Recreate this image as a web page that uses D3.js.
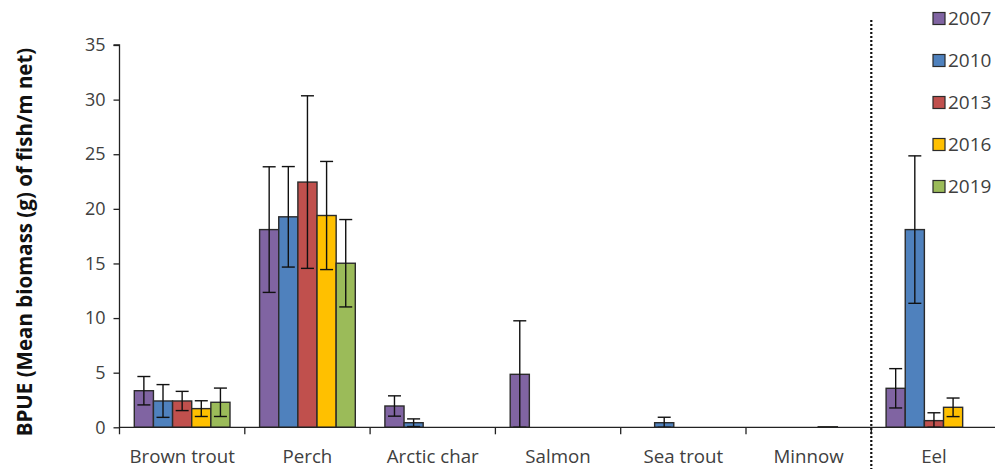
<!DOCTYPE html>
<html>
<head>
<meta charset="utf-8">
<script src="https://cdn.jsdelivr.net/npm/d3@7"></script>
<style>
  html, body { margin: 0; padding: 0; background: #fff; }
  svg { display: block; font-family: "Open Sans", "Liberation Sans", sans-serif; }
</style>
</head>
<body>
<svg id="chart" width="995" height="469"></svg>
<script>
// Species (x categories) and survey years (series)
const categories = ["Brown trout", "Perch", "Arctic char", "Salmon", "Sea trout", "Minnow", "Eel"];
const years = ["2007", "2010", "2013", "2016", "2019"];

// Mean BPUE per species, one array per survey year (null = no catch)
const bpue2007 = [3.35, 18.1, 1.95, 4.85, null, null, 3.57];
const bpue2010 = [2.41, 19.27, 0.42, null, 0.42, null, 18.1];
const bpue2013 = [2.41, 22.45, null, null, null, null, 0.61];
const bpue2016 = [1.71, 19.39, null, null, null, 0.05, 1.83];
const bpue2019 = [2.29, 15.02, null, null, null, null, null];

// Error bar half-widths (standard error)
const err2007 = [1.3, 5.75, 0.93, 4.9, null, null, 1.8];
const err2010 = [1.5, 4.6, 0.35, null, 0.5, null, 6.75];
const err2013 = [0.88, 7.9, null, null, null, null, 0.72];
const err2016 = [0.72, 4.95, null, null, null, null, 0.85];
const err2019 = [1.3, 4.0, null, null, null, null, null];

const yTicks = [0, 5, 10, 15, 20, 25, 30, 35];
const yTitle = "BPUE (Mean biomass (g) of fish/m net)";

const seriesValues = [bpue2007, bpue2010, bpue2013, bpue2016, bpue2019];
const seriesErrors = [err2007, err2010, err2013, err2016, err2019];
const colors = ["#8064A2", "#4F81BD", "#C0504D", "#FFC000", "#9BBB59"];

const records = [];
categories.forEach((c, ci) => {
  years.forEach((yr, si) => {
    const v = seriesValues[si][ci];
    if (v != null) records.push({ cat: c, year: yr, value: v, err: seriesErrors[si][ci], si });
  });
});

const svg = d3.select("#chart");
const plotLeft = 119.5, plotRight = 996.6, plotTop = 45, plotBottom = 427.3;

const x = d3.scaleBand().domain(categories).range([plotLeft, plotRight]).paddingInner(0).paddingOuter(0);
const groupPad = 14.8;
const xs = d3.scaleBand().domain(years).range([groupPad, x.bandwidth() - groupPad]).padding(0);
const y = d3.scaleLinear().domain([0, 35]).range([plotBottom, plotTop]);
const color = d3.scaleOrdinal().domain(years).range(colors);

// Y axis
const yAxis = svg.append("g")
  .attr("transform", `translate(${plotLeft},0)`)
  .call(d3.axisLeft(y).tickValues(yTicks).tickSize(6).tickPadding(8));
yAxis.select(".domain").attr("stroke", "#222").attr("stroke-width", 1.3)
  .attr("d", `M-6,${plotTop}H0V${plotBottom + 7}`);
yAxis.selectAll(".tick line").attr("stroke", "#222").attr("stroke-width", 1.3);
yAxis.selectAll(".tick text").attr("fill", "#404040").style("font-size", "18px")
  .attr("font-family", "'Open Sans', sans-serif");

// Bars
svg.append("g").selectAll("rect")
  .data(records)
  .join("rect")
  .attr("x", d => x(d.cat) + xs(d.year))
  .attr("width", xs.bandwidth())
  .attr("y", d => y(d.value))
  .attr("height", d => y(0) - y(d.value))
  .attr("fill", d => color(d.year))
  .attr("stroke", "#2b2b2b")
  .attr("stroke-width", 1.4);

// Error bars
const eb = svg.append("g").attr("stroke", "#111").attr("stroke-width", 1.4)
  .selectAll("g").data(records.filter(d => d.err != null)).join("g")
  .attr("transform", d => `translate(${x(d.cat) + xs(d.year) + xs.bandwidth() / 2},0)`);
eb.append("line").attr("y1", d => y(Math.max(0, d.value - d.err))).attr("y2", d => y(d.value + d.err));
eb.append("line").attr("x1", -6.5).attr("x2", 6.5).attr("y1", d => y(d.value + d.err)).attr("y2", d => y(d.value + d.err));
eb.append("line").attr("x1", -6.5).attr("x2", 6.5).attr("y1", d => y(Math.max(0, d.value - d.err))).attr("y2", d => y(Math.max(0, d.value - d.err)));

// X axis: ticks at category boundaries
const xAxis = svg.append("g").attr("transform", `translate(0,${plotBottom})`);
xAxis.append("line").attr("x1", plotLeft).attr("x2", plotRight).attr("stroke", "#222").attr("stroke-width", 1.3);
xAxis.selectAll("line.tk")
  .data(categories.slice(1))
  .join("line").attr("class", "tk")
  .attr("x1", d => x(d)).attr("x2", d => x(d))
  .attr("y1", 0).attr("y2", 7)
  .attr("stroke", "#222").attr("stroke-width", 1.3);
xAxis.selectAll("text")
  .data(categories)
  .join("text")
  .attr("x", d => x(d) + x.bandwidth() / 2)
  .attr("y", 35.5)
  .attr("text-anchor", "middle")
  .attr("fill", "#404040")
  .style("font-size", "18.7px")
  .text(d => d);

// Dotted separator before Eel
svg.append("line")
  .attr("x1", x("Eel")).attr("x2", x("Eel"))
  .attr("y1", 20).attr("y2", 469)
  .attr("stroke", "#111").attr("stroke-width", 2.2)
  .attr("stroke-dasharray", "2,2");

// Y title
svg.append("text")
  .attr("transform", `translate(32,242) rotate(-90)`)
  .attr("text-anchor", "middle")
  .attr("fill", "#111")
  .style("font-size", "20.5px")
  .style("font-weight", "bold")
  .text(yTitle);

// Legend
const legend = svg.append("g").selectAll("g").data(years).join("g")
  .attr("transform", (d, i) => `translate(933,${18.5 + i * 42})`);
legend.append("rect").attr("x", 0).attr("y", -6).attr("width", 12).attr("height", 12)
  .attr("fill", d => color(d)).attr("stroke", "#2b2b2b").attr("stroke-width", 1.2);
legend.append("text").attr("x", 15).attr("y", 0).attr("dy", "0.35em")
  .attr("fill", "#404040").style("font-size", "19px").text(d => d);
</script>
</body>
</html>
